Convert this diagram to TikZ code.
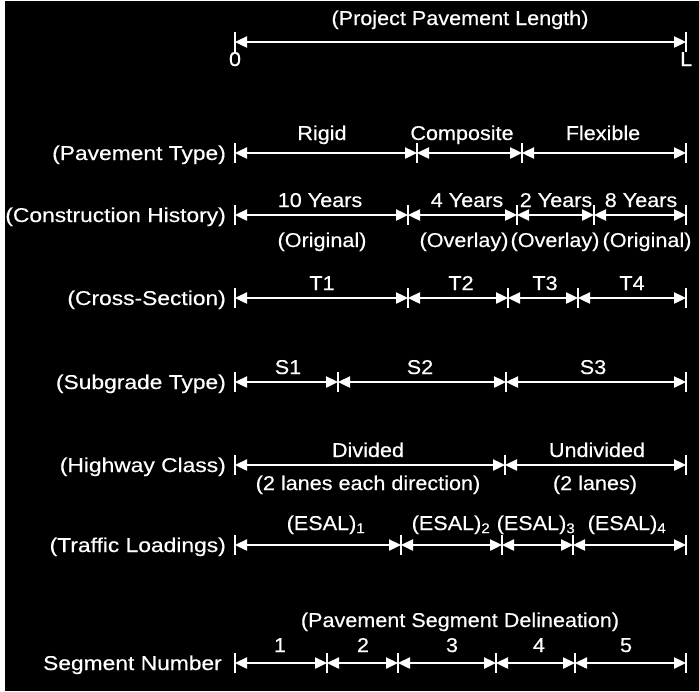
\documentclass[tikz,border=0pt]{standalone}
\usepackage{graphicx}
\usepackage{fontspec}
\setmainfont[FakeBold=0.4]{Liberation Sans}
\usetikzlibrary{arrows.meta}
\newcommand{\sx}[1]{\scalebox{1.08}[1]{#1}}
\newcommand{\rx}[1]{\scalebox{1.14}[1]{#1}}
\newcommand{\segrow}[3]{%
  \foreach \xx [count=\i] in {#3} {
    \coordinate (#1\i) at (\xx,#2);
    \draw[tickln] ([yshift=10pt]#1\i) -- ([yshift=-10pt]#1\i);
  }
  \foreach \xx [count=\i, remember=\i as \j (initially 0)] in {#3} {
    \ifnum\i>1 \draw[dim] (#1\j) -- (#1\i);\fi
  }
}
\tikzset{
  lbl/.style={text=white, font=\fontsize{20}{23}\selectfont, inner sep=0pt, anchor=base},
  rowlbl/.style={lbl, anchor=base east},
  dim/.style={draw=white, line width=2.4pt, {Triangle[length=12pt,width=11pt]}-{Triangle[length=12pt,width=11pt]}},
  tickln/.style={draw=white, line width=2.4pt}
}
\begin{document}
\begin{tikzpicture}[x=1pt,y=-1pt]
\useasboundingbox (0,0) rectangle (699,691);
\fill[white] (0,0) rectangle (699,691);
\fill[black] (5,1) rectangle (699,691);

% Project length
\node[lbl] (ttl) at (460,25) {\sx{(Project Pavement Length)}};
\segrow{pl}{42}{235,686}
\node[lbl] (zero) at (235,66) {\sx{0}};
\node[lbl, anchor=base west] (ell) at (680,66) {\sx{L}};

% Pavement type
\node[rowlbl] (rpt) at (226,160) {\rx{(Pavement Type)}};
\segrow{pt}{153}{235,417,522,686}
\node[lbl] (pt-a) at (322,140) {\sx{Rigid}};
\node[lbl] (pt-b) at (462,140) {\sx{Composite}};
\node[lbl] (pt-c) at (603,140) {\sx{Flexible}};

% Construction history
\node[rowlbl] (rch) at (226,222) {\rx{(Construction History)}};
\segrow{ch}{215}{235,408,517,594,686}
\node[lbl] (ch-a) at (320,207) {\sx{10 Years}};
\node[lbl] (ch-b) at (467,207) {\sx{4 Years}};
\node[lbl] (ch-c) at (556,207) {\sx{2 Years}};
\node[lbl] (ch-d) at (641,207) {\sx{8 Years}};
\node[lbl] (ch-e) at (322,247) {\sx{(Original)}};
\node[lbl] (ch-f) at (464,247) {\sx{(Overlay)}};
\node[lbl] (ch-g) at (555,247) {\sx{(Overlay)}};
\node[lbl] (ch-h) at (647,247) {\sx{(Original)}};

% Cross-section
\node[rowlbl] (rcs) at (226,305) {\rx{(Cross-Section)}};
\segrow{cs}{298}{235,408,508,578,686}
\node[lbl] (cs-a) at (322,290) {\sx{T1}};
\node[lbl] (cs-b) at (461,290) {\sx{T2}};
\node[lbl] (cs-c) at (545,290) {\sx{T3}};
\node[lbl] (cs-d) at (632,290) {\sx{T4}};

% Subgrade
\node[rowlbl] (rsg) at (226,389) {\rx{(Subgrade Type)}};
\segrow{sg}{382}{235,338,506,686}
\node[lbl] (sg-a) at (288,374) {\sx{S1}};
\node[lbl] (sg-b) at (420,374) {\sx{S2}};
\node[lbl] (sg-c) at (593,374) {\sx{S3}};

% Highway class
\node[rowlbl] (rhc) at (226,472) {\rx{(Highway Class)}};
\segrow{hc}{465}{235,505,686}
\node[lbl] (hc-a) at (368,457) {\sx{Divided}};
\node[lbl] (hc-b) at (597,457) {\sx{Undivided}};
\node[lbl] (hc-c) at (368,490) {\sx{(2 lanes each direction)}};
\node[lbl] (hc-d) at (595,490) {\sx{(2 lanes)}};

% Traffic loadings
\node[rowlbl] (rtl) at (226,552) {\rx{(Traffic Loadings)}};
\segrow{tl}{545}{235,401,502,573,686}
\node[lbl] (tl-a) at (326,530) {\sx{(ESAL)\textsubscript{1}}};
\node[lbl] (tl-b) at (451,530) {\sx{(ESAL)\textsubscript{2}}};
\node[lbl] (tl-c) at (536,530) {\sx{(ESAL)\textsubscript{3}}};
\node[lbl] (tl-d) at (627,530) {\sx{(ESAL)\textsubscript{4}}};

% Segment delineation
\node[lbl] (sdt) at (460,627) {\sx{(Pavement Segment Delineation)}};
\node[rowlbl] (rsn) at (222,670) {\rx{Segment Number}};
\segrow{sn}{663}{235,327,398,496,575,686}
\node[lbl] (sn-a) at (280,652) {\sx{1}};
\node[lbl] (sn-b) at (363,652) {\sx{2}};
\node[lbl] (sn-c) at (452,652) {\sx{3}};
\node[lbl] (sn-d) at (539,652) {\sx{4}};
\node[lbl] (sn-e) at (626,652) {\sx{5}};
\end{tikzpicture}
\end{document}
